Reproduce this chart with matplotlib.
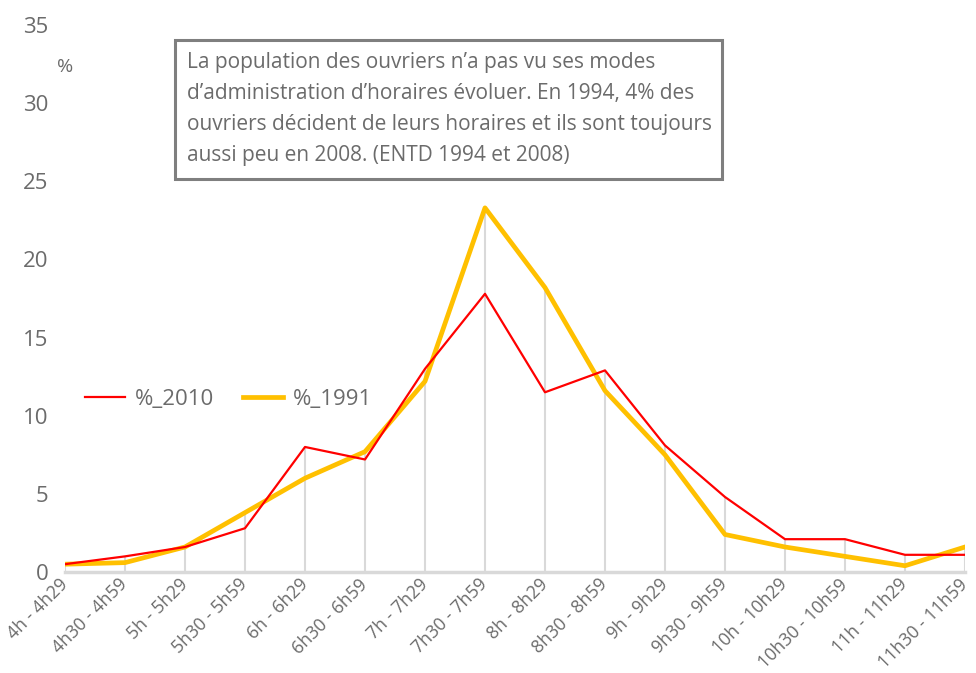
import matplotlib
matplotlib.use("Agg")
import matplotlib.pyplot as plt
from matplotlib.patches import Rectangle

plt.rcParams["font.family"] = ["Open Sans", "DejaVu Sans"]

categories = ["4h - 4h29", "4h30 - 4h59", "5h - 5h29", "5h30 - 5h59", "6h - 6h29",
              "6h30 - 6h59", "7h - 7h29", "7h30 - 7h59", "8h - 8h29", "8h30 - 8h59",
              "9h - 9h29", "9h30 - 9h59", "10h - 10h29", "10h30 - 10h59",
              "11h - 11h29", "11h30 - 11h59"]
pct_2010 = [0.5, 1.0, 1.6, 2.8, 8.0, 7.2, 13.0, 17.8, 11.5, 12.9, 8.1, 4.8, 2.1, 2.1, 1.1, 1.1]
pct_1991 = [0.5, 0.6, 1.6, 3.8, 6.0, 7.7, 12.2, 23.3, 18.2, 11.6, 7.5, 2.4, 1.6, 1.0, 0.4, 1.6]

note = ("La population des ouvriers n\u2019a pas vu ses modes\n"
        "d\u2019administration d\u2019horaires évoluer. En 1994, 4% des\n"
        "ouvriers décident de leurs horaires et ils sont toujours\n"
        "aussi peu en 2008. (ENTD 1994 et 2008)")

grey = "#6b6b6b"
grid = "#d9d9d9"

fig = plt.figure(figsize=(9.76, 6.73), dpi=100)
ax = fig.add_axes([65 / 976, 1 - 572 / 673, 900 / 976, 547 / 673])

x = list(range(len(categories)))
tops = [max(a, b) for a, b in zip(pct_2010, pct_1991)]
ax.vlines(x, 0, tops, color=grid, lw=1.5, zorder=1)

ax.plot(x, pct_2010, color="#ff0000", lw=1.6, label="%_2010", zorder=3)
ax.plot(x, pct_1991, color="#ffc000", lw=3.4, label="%_1991", zorder=2)

ax.set_xlim(0, len(categories) - 1)
ax.set_ylim(0, 35)
ax.set_yticks(range(0, 36, 5))
ax.set_xticks(x)
ax.set_xticklabels(categories, rotation=45, ha="right", va="center",
                   rotation_mode="anchor", fontsize=12.8)
ax.tick_params(axis="both", length=0, colors=grey)
ax.tick_params(axis="y", pad=12, labelsize=16)
ax.tick_params(axis="x", pad=7)

for side in ["left", "right", "top"]:
    ax.spines[side].set_visible(False)
ax.spines["bottom"].set_color(grid)
ax.spines["bottom"].set_linewidth(2.5)
ax.spines["bottom"].set_zorder(4)

ax.text(0, 32.3, "%", color=grey, fontsize=14, ha="center", va="center")

leg = ax.legend(loc="center left", bbox_to_anchor=(0.022, 0.315), ncol=2, frameon=False,
                fontsize=16, handlelength=1.8, columnspacing=1.3, handletextpad=0.45,
                borderpad=0, borderaxespad=0)
for t in leg.get_texts():
    t.set_color(grey)

fig.patches.append(Rectangle((175 / 976, 1 - 179 / 673), 547 / 976, 139 / 673,
                             transform=fig.transFigure, fill=False,
                             edgecolor="#7f7f7f", lw=2.2, zorder=5))
fig.text(187 / 976, 1 - 52 / 673, note, color=grey, fontsize=15, va="top", ha="left",
         linespacing=1.62)

fig.savefig("out.png", dpi=100)
